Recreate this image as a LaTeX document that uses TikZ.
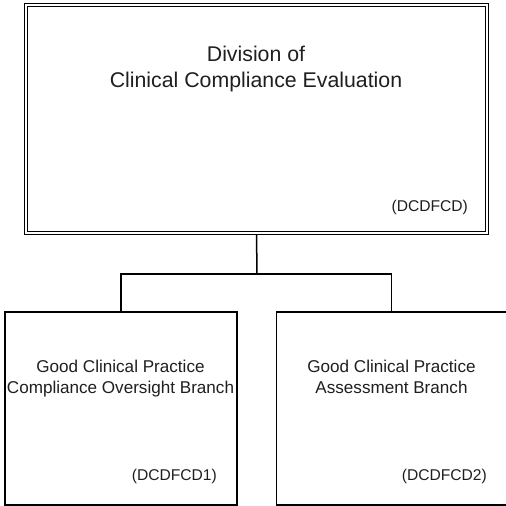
\documentclass[tikz,border=0pt]{standalone}
\usepackage{fontspec}
\setmainfont{Liberation Sans}
\usetikzlibrary{backgrounds}
\begin{document}
\begin{tikzpicture}[x=1pt,y=-1pt,
  unitbox/.style={draw=black, line width=1.6pt, fill=white, inner sep=0pt, outer sep=0pt, rectangle},
  topbox/.style={draw=black, double, double distance=1.4pt, line width=1.5pt, fill=white, inner sep=0pt, outer sep=0pt, rectangle},
  bigtxt/.style={font=\fontsize{21.3}{26}\selectfont, text=black!88, inner sep=0pt, anchor=base},
  midtxt/.style={font=\fontsize{17.1}{21}\selectfont, text=black!88, inner sep=0pt, anchor=base},
  codetxt/.style={font=\fontsize{15.6}{19}\selectfont, text=black!88, inner sep=0pt, anchor=base east},
  conn/.style={draw=black, line width=1.5pt}]
\useasboundingbox (0,0) rectangle (506,506);

\node[topbox, minimum width=460.8pt, minimum height=227.8pt] (top) at (256.5,119) {};
\node[unitbox, minimum width=232pt, minimum height=193pt] (left) at (121,408.5) {};
\node[unitbox, minimum width=230pt, minimum height=193pt] (right) at (391.5,408.5) {};

\node[bigtxt] (t1) at (256,61) {Division of};
\node[bigtxt] (t2) at (256,87) {Clinical Compliance Evaluation};
\node[codetxt] (t3) at (468,211) {(DCDFCD)};

\node[midtxt] (l1) at (120.5,372) {Good Clinical Practice};
\node[midtxt] (l2) at (120.5,393) {Compliance Oversight Branch};
\node[codetxt] (l3) at (217,480) {(DCDFCD1)};

\node[midtxt] (r1) at (391.5,372) {Good Clinical Practice};
\node[midtxt] (r2) at (391.5,393) {Assessment Branch};
\node[codetxt] (r3) at (487,480) {(DCDFCD2)};

\coordinate (j) at (257,274);
\begin{scope}[on background layer]
  \draw[conn] (top.south) -- (j);
  \draw[conn] (left.north) |- (j) -| (right.north);
\end{scope}
\end{tikzpicture}
\end{document}
